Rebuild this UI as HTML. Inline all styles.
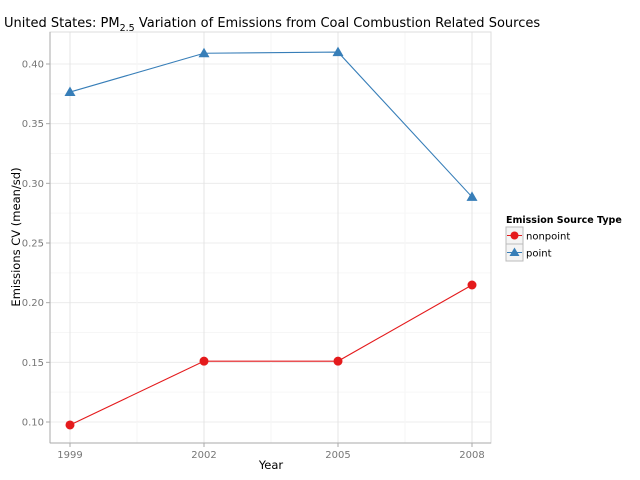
<!DOCTYPE html>
<html><head><meta charset="utf-8"><style>
body{margin:0;background:#fff;}
svg{display:block;font-family:"DejaVu Sans","Liberation Sans",sans-serif;}
</style></head><body>
<svg id="chart" width="640" height="480" viewBox="0 0 640 480">
<text x="4" y="27" font-size="13" fill="#000">United States: PM<tspan font-size="9.5" dy="4">2.5</tspan><tspan dy="-4"> Variation of Emissions from Coal Combustion Related Sources</tspan></text>
<g id="grid"></g>
<rect x="50" y="32" width="441" height="411" fill="none" stroke="#ddd" stroke-width="1"/>
<line x1="50" y1="32" x2="50" y2="443" stroke="#aaa"/>
<line x1="50" y1="443" x2="491" y2="443" stroke="#aaa"/>
<g id="axes"></g>
<g id="series"></g>
<text x="271" y="469" font-size="11.5" text-anchor="middle">Year</text>
<text transform="translate(20,237) rotate(-90)" font-size="11.5" text-anchor="middle">Emissions CV (mean/sd)</text>
<g>
<text x="506" y="223" font-size="9.5" font-weight="bold">Emission Source Type</text>
<g>
<rect x="506" y="227" width="17" height="17" fill="#f4f4f4" stroke="#bbb"/>
<line x1="507" y1="235.5" x2="522" y2="235.5" stroke="#e41a1c"/>
<circle cx="514.5" cy="235.5" r="4" fill="#e41a1c"/>
<text x="526" y="239.5" font-size="10">nonpoint</text></g>
<g>
<rect x="506" y="244" width="17" height="17" fill="#f4f4f4" stroke="#bbb"/>
<line x1="507" y1="252.5" x2="522" y2="252.5" stroke="#377eb8"/>
<polygon points="514.5,247.5 519.5,256 509.5,256" fill="#377eb8"/>
<text x="526" y="256.5" font-size="10">point</text></g>
</g>
</svg>
<script>
const years=[1999,2002,2005,2008];
const nonpoint=[0.0975,0.151,0.151,0.2148];
const point=[0.3765,0.409,0.410,0.2886];
const yTicks=[0.10,0.15,0.20,0.25,0.30,0.35,0.40];
const NS="http://www.w3.org/2000/svg";
function xs(v){return 70+(v-1999)*(134/3);}
function ys(v){return 422-(v-0.10)*(358/0.30);}
function mk(t,a,p){const e=document.createElementNS(NS,t);for(const k in a)e.setAttribute(k,a[k]);p.appendChild(e);return e;}
const grid=document.getElementById('grid'),axes=document.getElementById('axes'),ser=document.getElementById('series');
for(let i=0;i<yTicks.length;i++){const y=ys(yTicks[i]);
 const l=mk('line',{x1:50,x2:491,y1:y,y2:y,stroke:'#ececec','stroke-width':1},grid);
 
 
 if(i<yTicks.length-1){const m=ys(yTicks[i]+0.025);mk('line',{x1:50,x2:491,y1:m,y2:m,stroke:'#f6f6f6'},grid);}
 mk('line',{x1:46,x2:50,y1:y,y2:y,stroke:'#aaa'},axes);
 const t=mk('text',{x:44,y:y+3.5,'font-size':10,'text-anchor':'end',fill:'#777'},axes);t.textContent=yTicks[i].toFixed(2);
 
 }
for(let i=0;i<years.length;i++){const x=xs(years[i]);
 const l=mk('line',{x1:x,x2:x,y1:32,y2:443,stroke:'#e4e4e4'},grid);
 
 
 if(i<years.length-1){const m=xs(years[i]+1.5);mk('line',{x1:m,x2:m,y1:32,y2:443,stroke:'#f6f6f6'},grid);}
 mk('line',{x1:x,x2:x,y1:443,y2:447,stroke:'#aaa'},axes);
 const t=mk('text',{x:x,y:458,'font-size':10,'text-anchor':'middle',fill:'#777'},axes);t.textContent=years[i];
 
 }
function line(vals,c,name){const p=mk('polyline',{points:vals.map((v,i)=>xs(years[i])+','+ys(v)).join(' '),fill:'none',stroke:c,'stroke-width':1.1},ser);
 
 }
line(nonpoint,'#e41a1c','nonpoint');line(point,'#377eb8','point');
nonpoint.forEach((v,i)=>{const c=mk('circle',{cx:xs(years[i]),cy:ys(v),r:4.5,fill:'#e41a1c'},ser);
 
 });
point.forEach((v,i)=>{const x=xs(years[i]),y=ys(v);const p=mk('polygon',{points:`${x},${y-5.5} ${x+5.5},${y+4} ${x-5.5},${y+4}`,fill:'#377eb8'},ser);
 
 });
</script>
</body></html>
